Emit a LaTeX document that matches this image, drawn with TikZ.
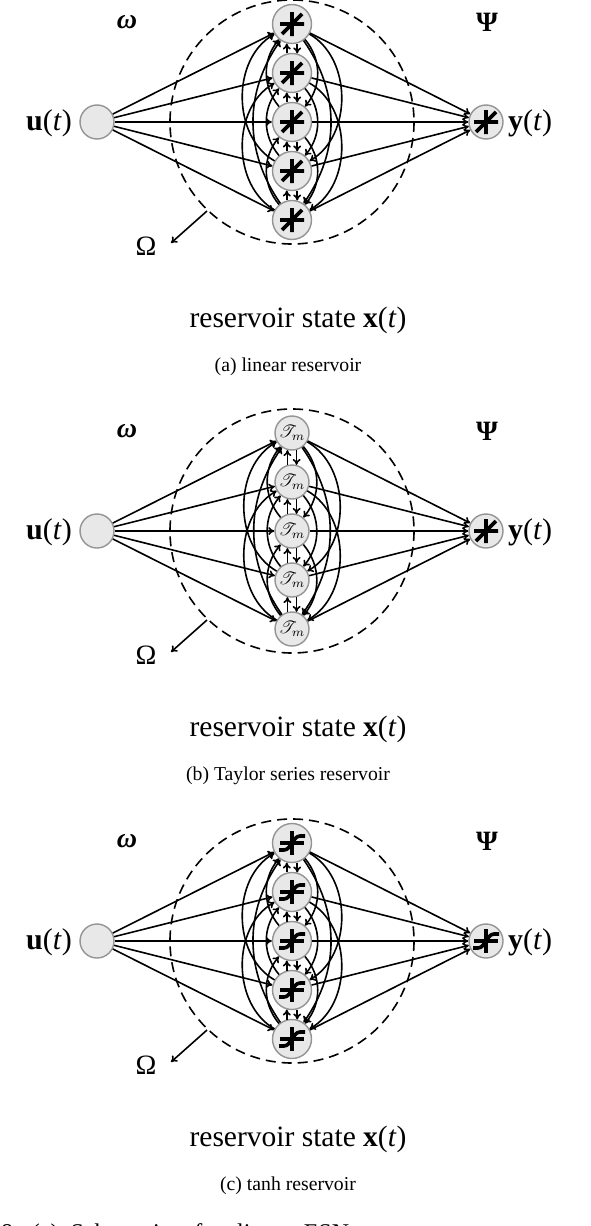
\RequirePackage{fix-cm}
\documentclass[tikz,border=0pt]{standalone}
\usepackage{fontspec}
\setmainfont{Liberation Serif}
\usepackage{amsmath,mathrsfs,graphicx}
\usetikzlibrary{arrows.meta,positioning,calc}
\tikzset{
  px/.style={x=1pt,y=-1pt},
  neuron/.style={circle, draw=black!42, fill=black!9, line width=1.4pt, minimum size=39pt, inner sep=0pt},
  smallneuron/.style={neuron, minimum size=34pt},
  conn/.style={line width=1.6pt, -{To[length=6pt,width=8pt]}},
  glyphline/.style={line width=3.6pt},
  ring/.style={dash pattern=on 10pt off 6pt, line width=1.6pt},
  biglab/.style={font=\fontsize{30}{36}\selectfont, inner sep=0pt},
  greek/.style={font=\fontsize{28}{32}\selectfont, inner sep=0pt},
  statelab/.style={font=\fontsize{29.5}{34}\selectfont, inner sep=0pt},
  caplab/.style={font=\fontsize{19.7}{24}\selectfont, inner sep=0pt},
  linglyph/.pic={\draw[glyphline] (-12,0)--(12,0) (0,-12)--(0,12) (-10,10)--(10,-10);},
  tanhglyph/.pic={\draw[glyphline] (-12,0)--(12,0) (0,-12)--(0,12);
                  \draw[glyphline, rounded corners=3pt] (-13,7)--(-5,7)--(5,-7)--(13,-7);},
}
\newcommand\drawglyph[2]{\ifcase#1\or\pic at (#2) {linglyph};\or\or\pic at (#2) {tanhglyph};\fi}
\newcommand\taylorsym{\scalebox{1.75}{$\mathscr{T}_m$}}
\newcommand\panel[4]{% #1 prefix, #2 y offset, #3 kind, #4 caption
\begin{scope}[yshift=-#2pt]
  \draw[ring] (292,122) circle[radius=122];
  \node[smallneuron] (#1u) at (97,122) {};
  \node[smallneuron] (#1o) at (486,122) {};
  \foreach \k in {1,...,5}{%
    \ifnum#3=2
      \node[smallneuron] (#1r\k) at (292,{24+49*(\k-1)}) {\taylorsym};
    \else
      \node[neuron] (#1r\k) at (292,{24+49*(\k-1)}) {};
      \drawglyph{#3}{#1r\k}
    \fi
  }
  \ifnum#3=2 \drawglyph{1}{#1o}\else\drawglyph{#3}{#1o}\fi
  \foreach \k in {1,...,5}{%
    \draw[conn] (#1u) -- (#1r\k);
    \draw[conn] (#1r\k) -- (#1o);
  }
  \foreach \i in {1,...,5}{\foreach \j in {1,...,5}{%
    \pgfmathtruncatemacro\dd{\j-\i}%
    \pgfmathtruncatemacro\ad{abs(\j-\i)}%
    \ifnum\dd=1 \draw[conn] (#1r\i.-75) -- (#1r\j.75);\fi
    \ifnum\dd=-1 \draw[conn] (#1r\i.105) -- (#1r\j.-105);\fi
    \ifnum\ad=2 \draw[conn] (#1r\i) to[bend left=40] (#1r\j);\fi
    \ifnum\ad=3 \draw[conn] (#1r\i) to[bend left=60] (#1r\j);\fi
    \ifnum\ad=4 \draw[conn] (#1r\i) to[bend left=35] (#1r\j);\fi
  }}
  \node[biglab, anchor=east] (#1ul) at (72,123) {\textbf{u}(\textit{t})};
  \node[biglab, anchor=west] (#1yl) at (508,123) {\textbf{y}(\textit{t})};
  \node[greek] (#1w) at (127,22) {\textbf{\textit{ω}}};
  \node[greek] (#1p) at (487,22) {\textbf{Ψ}};
  \node[greek] (#1Om) at (146,246) {Ω};
  \coordinate (#1om) at (207,211);
  \coordinate (#1omtip) at (171,243);
  \draw[conn] (#1om) -- (#1omtip);
  \node[statelab] (#1rs) at (298,320) {reservoir state \textbf{x}(\textit{t})};
  \node[caplab] (#1cap) at (288,367) {#4};
\end{scope}}
\begin{document}
\begin{tikzpicture}[px]
\useasboundingbox (0,0) rectangle (590,1226);
\panel{a}{0}{1}{(a) linear reservoir}
\panel{b}{409}{2}{(b) Taylor series reservoir}
\panel{c}{819}{3}{(c) tanh reservoir}
\node[font=\fontsize{24}{28}\selectfont, inner sep=0pt, anchor=base west] (figcap) at (1,1240) {8:\ \ (a)\ \ Schematic\ \ of\ \ a\ \ linear\ \ ESN.};
\end{tikzpicture}
\end{document}
